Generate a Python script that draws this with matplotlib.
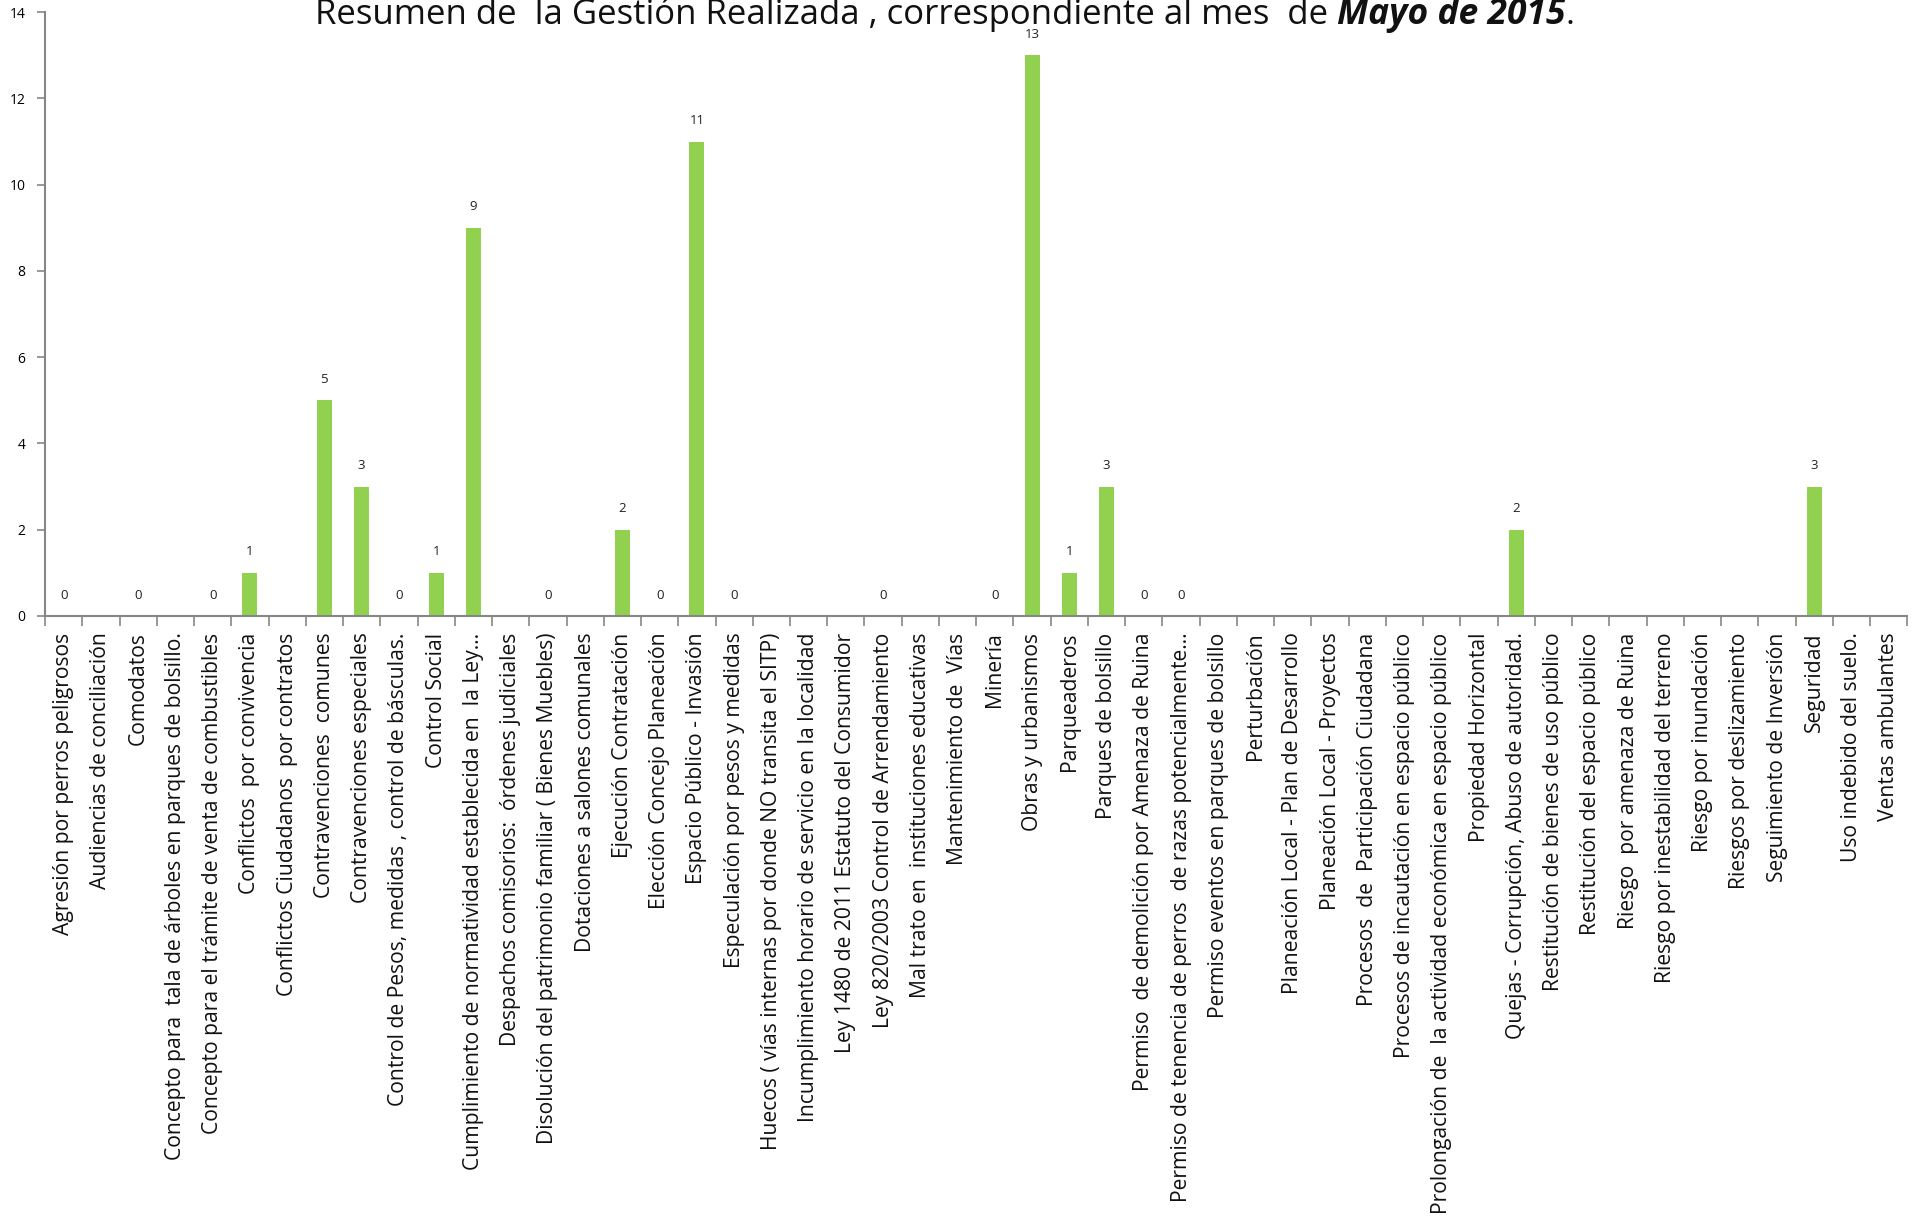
import matplotlib
matplotlib.use("Agg")
import matplotlib.pyplot as plt
import numpy as np

categories = [
    "Agresión por perros peligrosos",
    "Audiencias de conciliación",
    "Comodatos",
    "Concepto para  tala de árboles en parques de bolsillo.",
    "Concepto para el trámite de venta de combustibles",
    "Conflictos  por convivencia",
    "Conflictos Ciudadanos  por contratos",
    "Contravenciones  comunes",
    "Contravenciones especiales",
    "Control de Pesos, medidas , control de básculas.",
    "Control Social",
    "Cumplimiento de normatividad establecida en  la Ley…",
    "Despachos comisorios:  órdenes judiciales",
    "Disolución del patrimonio familiar ( Bienes Muebles)",
    "Dotaciones a salones comunales",
    "Ejecución Contratación",
    "Elección Concejo Planeación",
    "Espacio Público - Invasión",
    "Especulación por pesos y medidas",
    "Huecos ( vías internas por donde NO transita el SITP)",
    "Incumplimiento horario de servicio en la localidad",
    "Ley 1480 de 2011 Estatuto del Consumidor",
    "Ley 820/2003 Control de Arrendamiento",
    "Mal trato en  instituciones educativas",
    "Mantenimiento de  Vías",
    "Minería",
    "Obras y urbanismos",
    "Parqueaderos",
    "Parques de bolsillo",
    "Permiso  de demolición por Amenaza de Ruina",
    "Permiso de tenencia de perros  de razas potencialmente…",
    "Permiso eventos en parques de bolsillo",
    "Perturbación",
    "Planeación Local - Plan de Desarrollo",
    "Planeación Local - Proyectos",
    "Procesos  de  Participación Ciudadana",
    "Procesos de incautación en espacio público",
    "Prolongación de  la actividad económica en espacio público",
    "Propiedad Horizontal",
    "Quejas - Corrupción, Abuso de autoridad.",
    "Restitución de bienes de uso público",
    "Restitución del espacio público",
    "Riesgo  por amenaza de Ruina",
    "Riesgo por inestabilidad del terreno",
    "Riesgo por inundación",
    "Riesgos por deslizamiento",
    "Seguimiento de Inversión",
    "Seguridad",
    "Uso indebido del suelo.",
    "Ventas ambulantes",
]

# None = empty cell (no bar, no label)
values = [0, None, 0, None, 0, 1, None, 5, 3, 0,
          1, 9, None, 0, None, 2, 0, 11, 0, None,
          None, None, 0, None, None, 0, 13, 1, 3, 0,
          0, None, None, None, None, None, None, None, None, 2,
          None, None, None, None, None, None, None, 3, None, None]

y_ticks = [0, 2, 4, 6, 8, 10, 12, 14]

title_parts = [("Resumen de  la Gestión Realizada , correspondiente al mes  de ", "normal", "normal", "normal", 25),
               ("Mayo de 2015", "bold", "italic", "condensed", 25.5),
               (".", "normal", "normal", "normal", 25)]

plt.rcParams['font.family'] = ['Open Sans', 'DejaVu Sans']

fig = plt.figure(figsize=(19.17, 12.22), dpi=100)
ax = fig.add_axes([0.0235, 0.496, 0.9715, 0.494])

x = np.arange(len(categories))
heights = [v if v is not None else 0 for v in values]
ax.bar(x, heights, width=0.4, color="#92D050", zorder=2)

for xi, v in zip(x, values):
    if v is None:
        continue
    ax.annotate(str(v), (xi, v), xytext=(0, 15), textcoords="offset points",
                ha="center", va="center", fontsize=9.5, color="#222222")

ax.set_xlim(-0.5, len(categories) - 0.5)
ax.set_ylim(0, 14)
ax.set_yticks(y_ticks)
ax.set_yticklabels([str(t) for t in y_ticks], fontsize=10)

ax.set_xticks(x)
ax.set_xticklabels(categories, rotation=90, fontsize=15.2, color="#111111")
ax.tick_params(axis="x", which="major", length=0, pad=12)
ax.set_xticks(np.arange(-0.5, len(categories)), minor=True)
ax.tick_params(axis="x", which="minor", length=7, color="#868686", width=1.2)
ax.tick_params(axis="y", length=6, color="#868686", width=1.2, pad=8)

for s in ["top", "right"]:
    ax.spines[s].set_visible(False)
for s in ["left", "bottom"]:
    ax.spines[s].set_color("#868686")
    ax.spines[s].set_linewidth(1.5)

# Title built from consecutive pieces
renderer = fig.canvas.get_renderer()
xpos = 0.1645
ty = 0.988
for txt, wt, st, stretch, fs in title_parts:
    t = fig.text(xpos, ty, txt, ha="left", va="center", fontsize=fs,
                 fontweight=wt, fontstyle=st, fontstretch=stretch,
                 color="#111111")
    bb = t.get_window_extent(renderer=renderer)
    xpos = fig.transFigure.inverted().transform((bb.x1, bb.y1))[0]

fig.savefig("out.png", dpi=100)
